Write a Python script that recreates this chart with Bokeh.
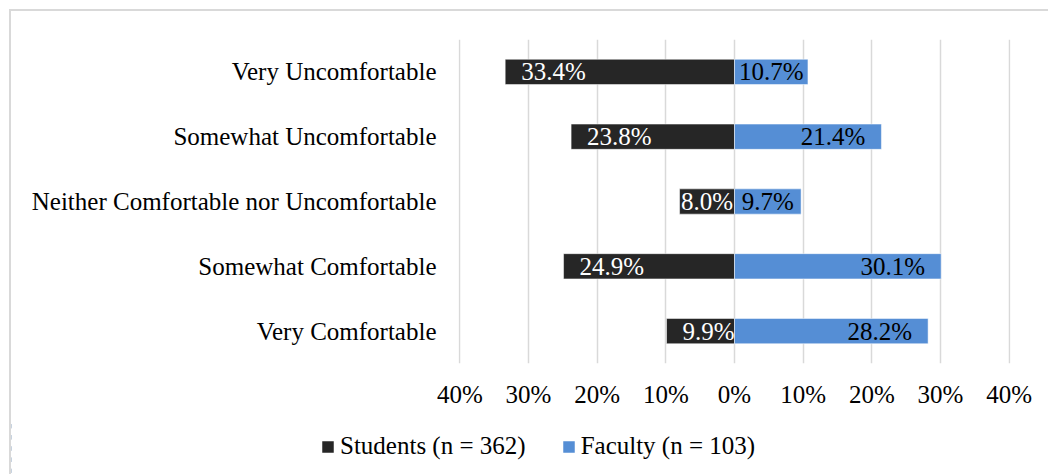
from bokeh.plotting import figure
from bokeh.models import (ColumnDataSource, FactorRange, Range1d, Legend, LegendItem,
                          FixedTicker)
from bokeh.layouts import column
from bokeh.core.properties import value
from bokeh.embed import file_html
from bokeh.resources import INLINE

# ---- data ----
categories = ["Very Uncomfortable", "Somewhat Uncomfortable",
              "Neither Comfortable nor Uncomfortable", "Somewhat Comfortable",
              "Very Comfortable"]
students = [33.4, 23.8, 8.0, 24.9, 9.9]
faculty = [10.7, 21.4, 9.7, 30.1, 28.2]
student_label = "Students (n = 362)"
faculty_label = "Faculty (n = 103)"
tick_values = [-40, -30, -20, -10, 0, 10, 20, 30, 40]
tick_labels = ["40%", "30%", "20%", "10%", "0%", "10%", "20%", "30%", "40%"]

# ---- style ----
FONT = "Liberation Serif"
FS = 25
STUDENT_COLOR = "#262626"
FACULTY_COLOR = "#558ED5"
GRID_COLOR = "#d9d9d9"
FRAME_W, FRAME_H = 552, 324
X_MIN, X_MAX = -40.2, 40.2
PPU = FRAME_W / (X_MAX - X_MIN)
PAD = 16
TOTAL_W = 1039

def text_w(s):
    w = {".": 0.25, "%": 0.833}
    return sum(w.get(c, 0.5) for c in s) * FS

def fmt(v):
    return f"{v:.1f}%"

p = figure(y_range=FactorRange(*reversed(categories)),
           x_range=Range1d(X_MIN, X_MAX),
           frame_width=FRAME_W, frame_height=FRAME_H,
           min_border_left=447, min_border_right=40,
           min_border_top=28, min_border_bottom=57,
           output_backend="svg", toolbar_location=None)
p.frame_align = False
p.outline_line_color = None
p.background_fill_color = "white"
p.border_fill_color = "white"

# bars
src_s = ColumnDataSource(dict(y=categories, left=[-v for v in students], right=[0]*len(students)))
src_f = ColumnDataSource(dict(y=categories, left=[0]*len(faculty), right=faculty))
bar_style = dict(height=0.39, line_color="white", line_alpha=0.5, line_width=1)
rs = p.hbar(y="y", left="left", right="right", source=src_s, fill_color=STUDENT_COLOR, **bar_style)
rf = p.hbar(y="y", left="left", right="right", source=src_f, fill_color=FACULTY_COLOR, **bar_style)

# data labels (Excel "inside end", centred when it does not fit)
def label_cols(vals, sign):
    xs, al, off, tx = [], [], [], []
    for v in vals:
        t = fmt(v)
        tx.append(t)
        if v * PPU >= text_w(t) + 15:
            xs.append(sign * v)
            al.append("left" if sign < 0 else "right")
            off.append(PAD if sign < 0 else -PAD)
        else:
            xs.append(sign * v / 2)
            al.append("center")
            off.append(0)
    return dict(x=xs, y=categories, text=tx, align=al, off=off)

ls = ColumnDataSource(label_cols(students, -1))
lf = ColumnDataSource(label_cols(faculty, 1))
for src, col in ((ls, "white"), (lf, "black")):
    p.text(x="x", y="y", text="text", text_align="align", x_offset="off",
           text_baseline="middle", text_color=col, source=src,
           text_font=value(FONT), text_font_size=f"{FS}px")

# axes
p.xaxis.ticker = FixedTicker(ticks=tick_values)
p.xaxis.major_label_overrides = dict(zip(tick_values, tick_labels))
for ax in (p.xaxis[0], p.yaxis[0]):
    ax.axis_line_color = None
    ax.major_tick_line_color = None
    ax.minor_tick_line_color = None
    ax.major_tick_out = 0
    ax.major_tick_in = 0
    ax.major_label_text_font = FONT
    ax.major_label_text_font_size = f"{FS}px"
    ax.major_label_text_color = "black"
p.xaxis.major_label_standoff = 17
p.yaxis.major_label_standoff = 22

p.xgrid.ticker = FixedTicker(ticks=tick_values)
p.xgrid.grid_line_color = GRID_COLOR
p.xgrid.grid_line_width = 1.5
p.ygrid.grid_line_color = None

# legend strip (separate small figure below the chart; its x range lies
# beyond the data so the key renderers draw nothing but their legend glyphs)
lg = figure(width=TOTAL_W, height=56, min_border=0,
            x_range=Range1d(1000, 1001), y_range=FactorRange(*categories),
            output_backend="svg", toolbar_location=None)
lg.frame_align = False
lg.axis.visible = False
lg.grid.visible = False
lg.outline_line_color = None
lg.border_fill_color = "white"
lg.background_fill_color = "white"
ks = lg.hbar(y="y", left="left", right="right", source=src_s,
             fill_color=STUDENT_COLOR, **bar_style)
kf = lg.hbar(y="y", left="left", right="right", source=src_f,
             fill_color=FACULTY_COLOR, **bar_style)
legend = Legend(items=[LegendItem(label=student_label, renderers=[ks]),
                       LegendItem(label=faculty_label, renderers=[kf])],
                orientation="horizontal", location=(309, 16),
                glyph_width=15, glyph_height=15, label_standoff=5, spacing=35,
                padding=0, margin=0, border_line_color=None,
                background_fill_alpha=0,
                label_text_font=FONT, label_text_font_size=f"{FS}px",
                label_text_color="black")
lg.add_layout(legend, "center")

layout = column(p, lg, spacing=0)
layout.styles = {"margin-left": "11px", "margin-top": "11px",
                 "box-shadow": "-2px -2px 0px 0px #d9d9d9"}

open("out.html", "w").write(file_html(layout, INLINE))
